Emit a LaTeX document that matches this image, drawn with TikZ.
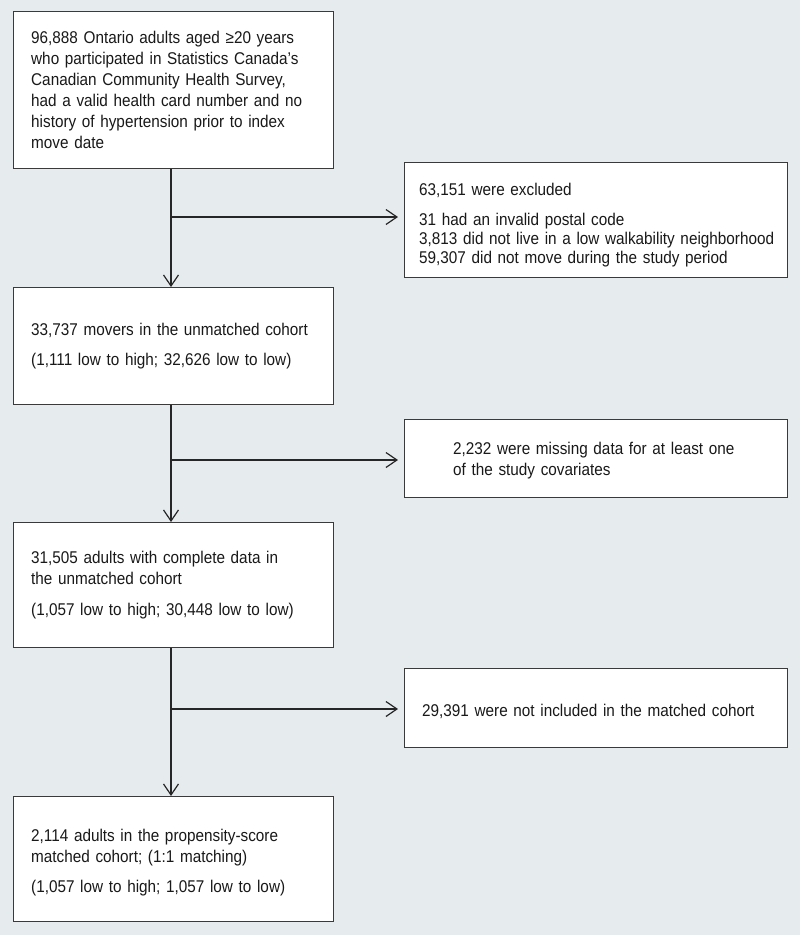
\documentclass[tikz,border=0pt]{standalone}
\usepackage{fontspec}
\setmainfont{Liberation Sans}[FakeStretch=0.9, WordSpace=0.8]
\usetikzlibrary{arrows.meta}
\definecolor{bgc}{HTML}{E6ECEE}
\definecolor{edgec}{HTML}{3A3A3A}
\tikzset{
  box/.style={draw=edgec, line width=1.3pt, fill=white, inner sep=0pt},
  txt/.style={anchor=base west, inner sep=0pt, align=left, text=black!90,
              font=\fontsize{17}{21}\selectfont},
  arr/.style={draw=black!85, line width=1.2pt,
              -{Straight Barb[length=11pt,width=15pt,line width=1.2pt]}},
}
\begin{document}
\begin{tikzpicture}[x=1pt,y=-1pt]
\fill[bgc] (0,0) rectangle (800,935);
\useasboundingbox (0,0) rectangle (800,935);
% main boxes
\node[box, minimum width=320pt, minimum height=157pt, anchor=north west] (b1) at (13,11) {};
\node[box, minimum width=320pt, minimum height=117pt, anchor=north west] (b2) at (13,287) {};
\node[box, minimum width=320pt, minimum height=125pt, anchor=north west] (b3) at (13,522) {};
\node[box, minimum width=320pt, minimum height=125pt, anchor=north west] (b4) at (13,796) {};
% exclusion boxes
\node[box, minimum width=383pt, minimum height=115pt, anchor=north west] (e1) at (404,162) {};
\node[box, minimum width=383pt, minimum height=78pt, anchor=north west] (e2) at (404,419) {};
\node[box, minimum width=383pt, minimum height=79pt, anchor=north west] (e3) at (404,668) {};
% texts
\node[txt, text width=300pt] (t1) at (31,43) {96,888 Ontario adults aged ≥20 years\\who participated in Statistics Canada’s\\Canadian Community Health Survey,\\had a valid health card number and no\\history of hypertension prior to index\\move date};
\node[txt, text width=300pt] (t2) at (31,335) {33,737 movers in the unmatched cohort\\[9pt](1,111 low to high; 32,626 low to low)};
\node[txt, text width=300pt] (t3) at (31,563) {31,505 adults with complete data in\\the unmatched cohort\\[10pt](1,057 low to high; 30,448 low to low)};
\node[txt, text width=300pt] (t4) at (31,841) {2,114 adults in the propensity-score\\matched cohort; (1:1 matching)\\[9pt](1,057 low to high; 1,057 low to low)};
\node[txt, text width=370pt, font=\fontsize{17}{19}\selectfont] (u1) at (419,195) {63,151 were excluded\\[11pt]31 had an invalid postal code\\3,813 did not live in a low walkability neighborhood\\59,307 did not move during the study period};
\node[txt, text width=330pt] (u2) at (453,454) {2,232 were missing data for at least one\\of the study covariates};
\node[txt, text width=360pt] (u3) at (422,716) {29,391 were not included in the matched cohort};
% spine junctions
\coordinate (j1) at (171,217);
\coordinate (j2) at (171,460);
\coordinate (j3) at (171,709);
% connectors
\draw[arr] (b1.south -| j1) -- (b2.north -| j1);
\draw[arr] (b2.south -| j2) -- (b3.north -| j2);
\draw[arr] (b3.south -| j3) -- (b4.north -| j3);
\draw[arr, shorten >=6pt] (j1) -- (e1.west |- j1);
\draw[arr, shorten >=6pt] (j2) -- (e2.west |- j2);
\draw[arr, shorten >=6pt] (j3) -- (e3.west |- j3);
\end{tikzpicture}
\end{document}
